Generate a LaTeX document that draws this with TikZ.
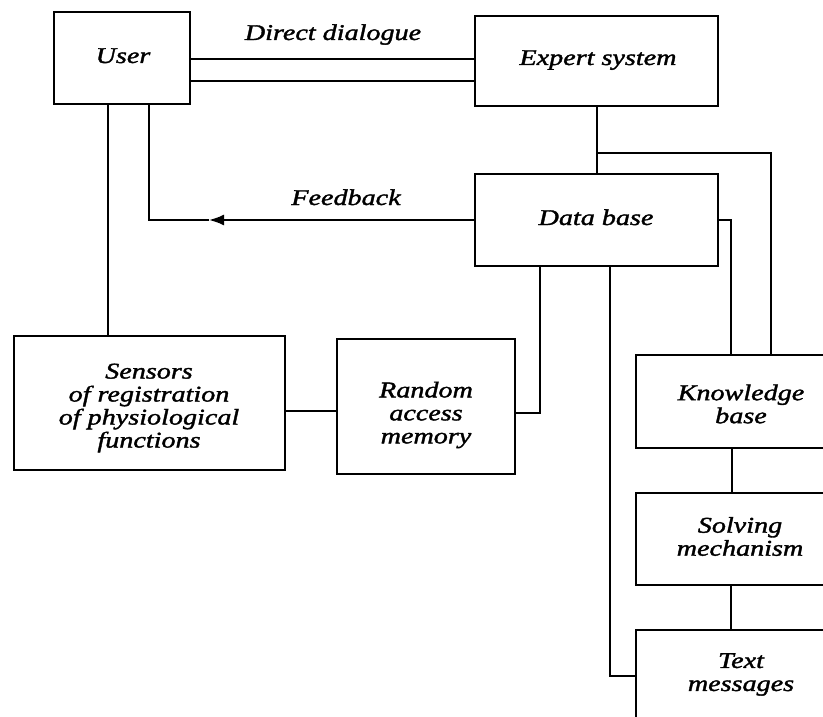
\documentclass[tikz,border=0pt]{standalone}
\usepackage{fontspec}
\setmainfont{Liberation Serif}[FakeStretch=1.25,FakeBold=1.6]
\usetikzlibrary{arrows.meta}
\begin{document}
\begin{tikzpicture}[x=1pt,y=-1pt,
  box/.style={draw,line width=2pt,inner sep=0pt,minimum width=#1},
  lbl/.style={inner sep=0pt,align=center,font={\fontsize{22.5}{23}\selectfont\itshape}},
  wire/.style={line width=2pt}]
\useasboundingbox (0,0) rectangle (823,717);
% boxes
\node[box=136pt,minimum height=92pt] (user) at (122,58) {};
\node[box=243pt,minimum height=90pt] (expert) at (596.5,61) {};
\node[box=243pt,minimum height=92pt] (db) at (596.5,220) {};
\node[box=271pt,minimum height=134pt] (sens) at (149.5,403) {};
\node[box=178pt,minimum height=135pt] (ram) at (426,406.5) {};
\node[box=210pt,minimum height=93pt] (know) at (741,401.5) {};
\node[box=210pt,minimum height=92pt] (solv) at (741,539) {};
\node[box=210pt,minimum height=96pt] (text) at (741,678) {};
% texts
\node[lbl,anchor=base] (userT) at (123,63) {User};
\node[lbl,anchor=base] (expertT) at (598,65) {Expert system};
\node[lbl,anchor=base] (dbT) at (596,225) {Data base};
\node[lbl] (sensT) at (149,408) {Sensors\\of registration\\of physiological\\functions};
\node[lbl] (ramT) at (426,415) {Random\\access\\memory};
\node[lbl] (knowT) at (741,404) {Knowledge\\base};
\node[lbl] (solvT) at (740,536.5) {Solving\\mechanism};
\node[lbl] (textT) at (741,674.5) {Text\\messages};
\node[lbl,anchor=base] (dd) at (333,40) {Direct dialogue};
\node[lbl,anchor=base] (fbT) at (346,205) {Feedback};
% connectors
\draw[wire] (user.east |- 0,59) -- (expert.west |- 0,59);
\draw[wire] (user.east |- 0,81) -- (expert.west |- 0,81);
\draw[wire] (expert.south) -- (db.north);
\draw[wire] (expert.south |- 0,153) -| ([xshift=30pt]know.north);
\draw[wire] (db.east) -| ([xshift=-10pt]know.north);
\coordinate (fbc) at (149,220);
\coordinate (fbA) at (209,220);
\draw[wire,-{Latex[length=15pt,width=11pt]}] (db.west) -- (fbA);
\draw[wire] (fbA) -- (fbc) -- (user.south -| fbc);
\draw[wire] ([xshift=-14pt]user.south) -- ([xshift=-14pt]user.south |- sens.north);
\draw[wire] (sens.east |- 0,411) -- (ram.west |- 0,411);
\draw[wire] ([xshift=-56.5pt]db.south) |- (ram.east |- 0,413);
\draw[wire] ([xshift=13.5pt]db.south) |- (text.west |- 0,676);
\draw[wire] ([xshift=-9pt]know.south) -- ([xshift=-9pt]solv.north);
\draw[wire] ([xshift=-10pt]solv.south) -- ([xshift=-10pt]text.north);
\end{tikzpicture}
\end{document}
